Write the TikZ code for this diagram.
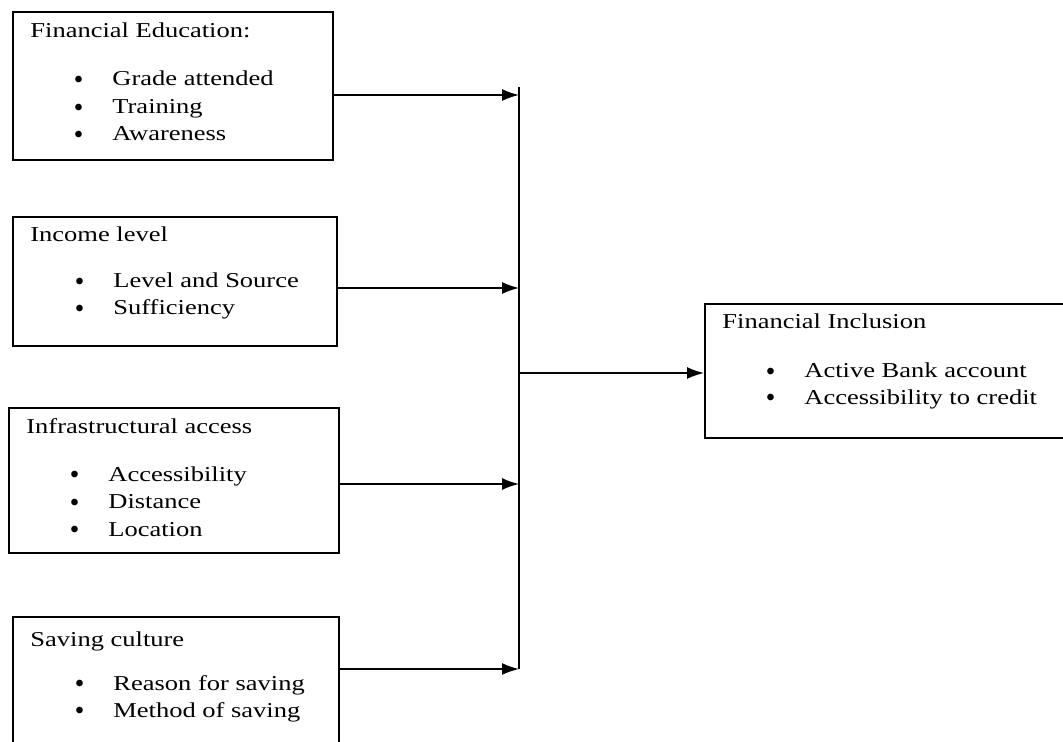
\documentclass[tikz,border=0pt]{standalone}
\usepackage{fontspec}
\setmainfont{Liberation Serif}[FakeStretch=1.25]
\usetikzlibrary{positioning,arrows.meta}

\newcommand{\itm}[1]{\makebox[19pt][l]{\raisebox{1.2pt}{\fontsize{8.5}{8.5}\selectfont$\bullet$}}#1}

\begin{document}
\begin{tikzpicture}[x=0.5pt,y=-0.5pt,
	every node/.style={font=\fontsize{10.6}{13.75}\selectfont,inner sep=0pt},
	box/.style={draw,line width=0.8pt,anchor=north west},
	head/.style={anchor=base west},
	item/.style={anchor=base west},
	link/.style={-{Latex[length=8.5pt,width=6pt]},line width=0.8pt}]
			\clip (0,0) rectangle (1063,742);
			% factor boxes
			\node[box,minimum width=160pt,minimum height=74pt] (edu) at (12,11) {};
			\node[box,minimum width=162pt,minimum height=64.5pt] (inc) at (12,216) {};
			\node[box,minimum width=165pt,minimum height=72.5pt] (infra) at (8,407) {};
			\node[box,minimum width=163pt,minimum height=80pt] (sav) at (12,616) {};
			\node[box,minimum width=183pt,minimum height=67pt] (incl) at (704,303) {};

			\node[head] (edu-t) at (30,38) {Financial Education:};
			\foreach \t [count=\i] in {Grade attended,Training,Awareness}
				\node[item] (edu-\i) at (74,{58.5+27.5*\i}) {\itm{\t}};

			\node[head] (inc-t) at (30,242) {Income level};
			\foreach \t [count=\i] in {Level and Source,Sufficiency}
				\node[item] (inc-\i) at (75,{261+27*\i}) {\itm{\t}};

			\node[head] (infra-t) at (26,433) {Infrastructural access};
			\foreach \t [count=\i] in {Accessibility,Distance,Location}
				\node[item] (infra-\i) at (70,{453.5+27.5*\i}) {\itm{\t}};

			\node[head] (sav-t) at (30,646) {Saving culture};
			\foreach \t [count=\i] in {Reason for saving,Method of saving}
				\node[item] (sav-\i) at (75,{663+27*\i}) {\itm{\t}};

			\node[head] (incl-t) at (722,329) {Financial Inclusion};
			\foreach \t [count=\i] in {Active Bank account,Accessibility to credit}
				\node[item] (incl-\i) at (766,{352+26*\i}) {\itm{\t}};

			% joins on the vertical line
			\coordinate (j1) at (519,95);
			\coordinate (j2) at (519,288);
			\coordinate (j3) at (519,484);
			\coordinate (j4) at (519,669);
			\coordinate (jm) at (519,373);
			\draw[line width=0.8pt] ([yshift=4pt]j1) -- (j4);
			\draw[link] (edu.east |- j1) -- (j1);
			\draw[link] (inc.east |- j2) -- (j2);
			\draw[link] (infra.east |- j3) -- (j3);
			\draw[link] (sav.east |- j4) -- (j4);
			\draw[link] (jm) -- (incl.west |- jm);
		\end{tikzpicture}
\end{document}
